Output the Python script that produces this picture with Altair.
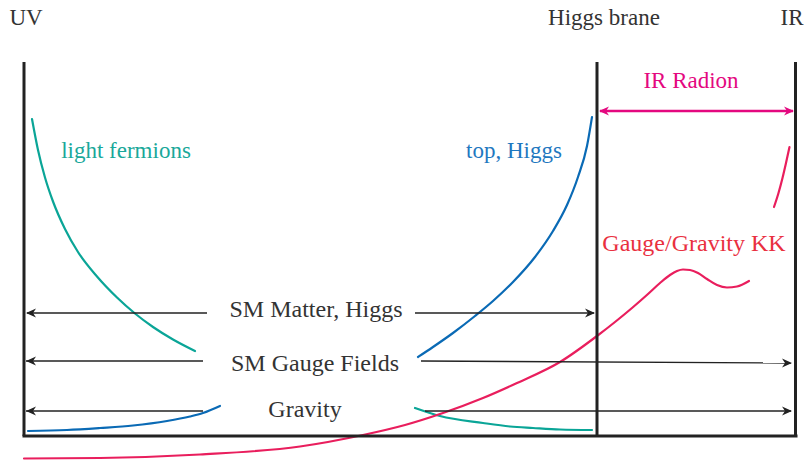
import altair as alt
import pandas as pd

# ---------------- data (screen-like units) ----------------
brane_x = [24, 597, 795.5]
brane_top = [62, 62, 62]
brane_bottom = [436, 436, 436]
floor_x1 = [24]
floor_x2 = [796]
floor_y = [436]

arrow_x1 = [27, 415, 26, 421, 26, 425, 600]
arrow_x2 = [207, 594, 203, 791, 203, 791, 793]
arrow_y1 = [313, 313, 361, 361, 411, 411, 111]
arrow_y2 = [313, 313, 361, 363, 411, 411, 111]
arrow_col = ["#222222"] * 6 + ["#e4087f"]
arrow_w = [1.4] * 6 + [2.4]

head_x = [26, 595, 26, 792, 26, 792, 599, 794]
head_y = [313, 313, 361, 363, 411, 411, 111, 111]
head_angle = [180, 0, 180, 0, 180, 0, 180, 0]
head_col = ["#222222"] * 6 + ["#e4087f"] * 2

lightf_x = [32, 38, 45, 53, 65, 78, 97, 117, 135, 153, 173, 195]
lightf_y = [119, 150, 177.5, 201.5, 229, 252, 276.5, 297.5, 313.5, 327, 339.5, 351]
gaugeR_x = [415, 440, 483, 510, 533, 560, 592]
gaugeR_y = [408, 416, 423, 426.5, 428, 429.5, 430]
topH_x = [418, 433, 453, 475, 493, 513, 535, 553, 567, 578, 587, 592]
topH_y = [357, 347, 333, 316, 301, 282, 257, 231, 205, 177, 146, 117]
gravL_x = [28, 67, 100, 133, 167, 190, 203, 220]
gravL_y = [431, 430, 428, 425.5, 421, 416.5, 413, 406]
kk_x = [24, 100, 200, 300, 363, 405, 443, 483, 517, 560, 597, 615, 632, 648, 660, 670,
        677, 683, 690, 698, 707, 717, 727, 737, 749]
kk_y = [458.5, 458, 454.5, 446.5, 435, 425, 413, 398, 383, 362, 336, 322, 308, 294, 283, 275,
        271, 269.5, 270, 273, 279, 285, 287.5, 286.5, 281]
radion_x = [774, 778.5, 782.5, 786, 789.5]
radion_y = [207, 193, 178, 163, 147]

curve_names = ["light", "gaugeR", "topH", "gravL", "kk", "radion"]
curve_cols = ["#0aa597", "#0aa597", "#0a6ab5", "#0a6ab5", "#e91e5d", "#e91e5d"]
curve_xs = [lightf_x, gaugeR_x, topH_x, gravL_x, kk_x, radion_x]
curve_ys = [lightf_y, gaugeR_y, topH_y, gravL_y, kk_y, radion_y]

label_text = ["UV", "Higgs brane", "IR", "IR Radion", "light fermions", "top, Higgs",
              "Gauge/Gravity KK", "SM Matter, Higgs", "SM Gauge Fields", "Gravity"]
label_x = [26, 604, 792, 691, 126, 514, 694, 316, 315, 305]
label_y = [25, 25, 25, 88, 158, 158, 251, 317, 371, 417]
label_col = ["#333333", "#333333", "#333333", "#e4087f", "#1aa89a", "#1f78c0",
             "#e9303f", "#333333", "#333333", "#333333"]
label_size = [23, 23, 23, 23, 23, 23, 24, 24, 24, 24]

# ---------------- tables ----------------
branes = pd.DataFrame({"x": brane_x, "y": brane_top, "y2": brane_bottom})
floor = pd.DataFrame({"x": floor_x1, "x2": floor_x2, "y": floor_y})
arrows = pd.DataFrame({"x": arrow_x1, "x2": arrow_x2, "y": arrow_y1, "y2": arrow_y2,
                       "c": arrow_col, "w": arrow_w})
heads = pd.DataFrame({"x": head_x, "y": head_y, "a": head_angle, "c": head_col})
rows = []
for n, c, xs, ys in zip(curve_names, curve_cols, curve_xs, curve_ys):
    for i, (xv, yv) in enumerate(zip(xs, ys)):
        rows.append({"curve": n, "c": c, "i": i, "x": xv, "y": yv})
curves = pd.DataFrame(rows)
labels = pd.DataFrame({"t": label_text, "x": label_x, "y": label_y, "c": label_col,
                       "s": label_size})

XS = alt.Scale(domain=[8, 804], nice=False, zero=False)
YS = alt.Scale(domain=[8, 460], nice=False, zero=False, reverse=True)


def X(f="x"):
    return alt.X(f + ":Q", scale=XS, axis=None)


def Y(f="y"):
    return alt.Y(f + ":Q", scale=YS, axis=None)


brane_layer = alt.Chart(branes).mark_rule(color="#222222", strokeWidth=3).encode(
    x=X(), y=Y(), y2="y2:Q")
floor_layer = alt.Chart(floor).mark_rule(color="#222222", strokeWidth=3, strokeCap="square").encode(
    x=X(), x2="x2:Q", y=Y())
arrow_layer = alt.Chart(arrows).mark_rule().encode(
    x=X(), x2="x2:Q", y=Y(), y2="y2:Q",
    color=alt.Color("c:N", scale=None),
    strokeWidth=alt.StrokeWidth("w:Q", scale=None))
head_layer = alt.Chart(heads).mark_point(
    shape="M 0 0 L -2 -0.9 L -1.4 0 L -2 0.9 Z", filled=True, size=100, opacity=1, strokeWidth=0
).encode(x=X(), y=Y(), angle=alt.Angle("a:Q", scale=None), color=alt.Color("c:N", scale=None))
curve_layer = alt.Chart(curves).mark_line(interpolate="monotone", strokeWidth=2.2, strokeCap="round").encode(
    x=X(), y=Y(), detail="curve:N", order="i:Q", color=alt.Color("c:N", scale=None))

text_layers = []
for sz, grp in labels.groupby("s"):
    text_layers.append(
        alt.Chart(grp.reset_index(drop=True)).mark_text(
            font="Liberation Serif", fontSize=int(sz), baseline="alphabetic", align="center"
        ).encode(x=X(), y=Y(), text="t:N", color=alt.Color("c:N", scale=None))
    )

chart = alt.layer(curve_layer, arrow_layer, head_layer, brane_layer, floor_layer,
                  *text_layers).properties(
    width=796, height=452, padding=0, autosize=alt.AutoSizeParams(type="none")
).configure_view(strokeOpacity=0)

chart.save("out.html", embed_options={"renderer": "svg", "actions": False})
